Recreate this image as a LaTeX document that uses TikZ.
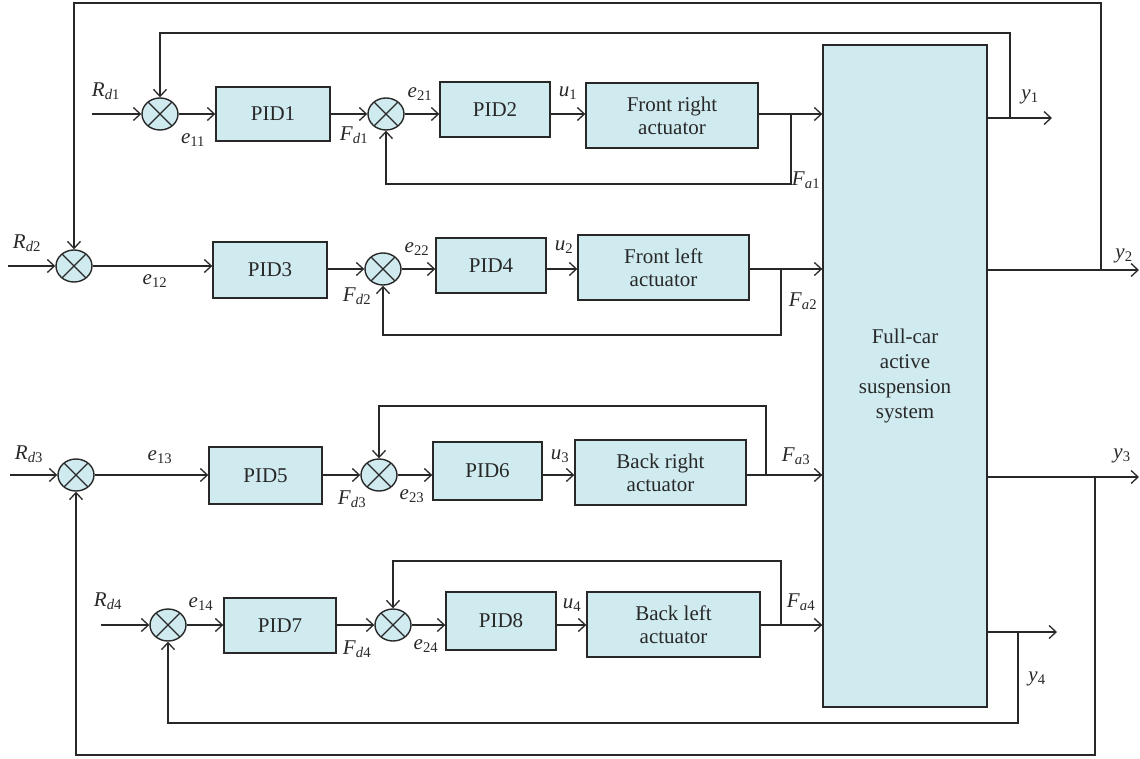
\documentclass[tikz,border=0pt]{standalone}
\usepackage{fontspec}
\setmainfont{Liberation Serif}
\usetikzlibrary{arrows.meta,shapes.geometric}
\definecolor{boxfill}{RGB}{208,235,240}
\definecolor{ln}{RGB}{40,40,40}
\newcommand{\sig}[2]{\textit{#1}\textsubscript{#2}}
\begin{document}
\begin{tikzpicture}[x=1pt,y=-1pt,
  >={Straight Barb[length=7pt,width=13pt]},
  line width=1.3pt, color=ln,
  blk/.style={draw=ln, fill=boxfill, line width=1.4pt, inner sep=0pt, align=center,
    font=\fontsize{21}{23}\selectfont},
  sumj/.style={ellipse, draw=ln, fill=boxfill, line width=1.4pt, minimum width=36pt,
    minimum height=32pt, inner sep=0pt,
    path picture={\draw[line width=1.3pt,ln] (path picture bounding box.center) ++(-20,-20) -- ++(40,40)
      (path picture bounding box.center) ++(-20,20) -- ++(40,-40);}},
  lab/.style={font=\fontsize{21}{23}\selectfont, inner sep=0pt}]
\useasboundingbox (0,0) rectangle (1140,759);

% plant
\node[blk, minimum width=164pt, minimum height=662pt, font=\fontsize{21}{25}\selectfont] (full) at (905,376) {Full-car\\active\\suspension\\system};

% row 1
\coordinate (in1) at (92,114);
\node[sumj] (s11) at (160,114) {};
\node[blk, minimum width=114pt, minimum height=54pt] (pid1) at (273,114) {PID1};
\node[sumj] (s21) at (386,114) {};
\node[blk, minimum width=110pt, minimum height=55pt] (pid2) at (495,109.5) {PID2};
\node[blk, minimum width=172pt, minimum height=65pt] (fra) at (672,115.5) {Front right\\actuator};
% row 2
\coordinate (in2) at (8,266);
\node[sumj] (s12) at (74,266) {};
\node[blk, minimum width=114pt, minimum height=56pt] (pid3) at (270,270) {PID3};
\node[sumj] (s22) at (383,269) {};
\node[blk, minimum width=110pt, minimum height=55pt] (pid4) at (491,265.5) {PID4};
\node[blk, minimum width=171pt, minimum height=65pt] (fla) at (663.5,267.5) {Front left\\actuator};
% row 3
\coordinate (in3) at (10,475);
\node[sumj] (s13) at (76,475) {};
\node[blk, minimum width=113pt, minimum height=57pt] (pid5) at (265.5,475.5) {PID5};
\node[sumj] (s23) at (379,475) {};
\node[blk, minimum width=109pt, minimum height=58pt] (pid6) at (487.5,471) {PID6};
\node[blk, minimum width=171pt, minimum height=65pt] (bra) at (660.5,472.5) {Back right\\actuator};
% row 4
\coordinate (in4) at (101,625);
\node[sumj] (s14) at (168,625) {};
\node[blk, minimum width=112pt, minimum height=55pt] (pid7) at (280,625.5) {PID7};
\node[sumj] (s24) at (393,625) {};
\node[blk, minimum width=110pt, minimum height=58pt] (pid8) at (501,621) {PID8};
\node[blk, minimum width=173pt, minimum height=65pt] (bla) at (673.5,624.5) {Back left\\actuator};

% output tap points and ends
\coordinate (t1) at (1010,118);
\coordinate (t2) at (1101,270);
\coordinate (t3) at (1095,477);
\coordinate (t4) at (1018,632);
\coordinate (y1e) at (1052,118);
\coordinate (y2e) at (1139,270);
\coordinate (y3e) at (1139,477);
\coordinate (y4e) at (1057,632);
\coordinate (b1) at (791,114);
\coordinate (b2) at (781,269);
\coordinate (b3) at (766,475);
\coordinate (b4) at (781,625);

% row 1 connectors
\draw[->] (in1) -- (s11);
\draw[->] (s11) -- (pid1);
\draw[->] (pid1) -- (s21);
\draw[->] (s21) -- (s21 -| pid2.west);
\draw[->] (s21 -| pid2.east) -- (s21 -| fra.west);
\draw[->] (s21 -| fra.east) -- (s21 -| full.west);
\draw[->] (b1) -- ++(0,70) -| (s21.south);
\draw[->] (full.east |- t1) -- (y1e);
\draw[->] (t1) -- ++(0,-85) -| (s11.north);
% row 2 connectors
\draw[->] (in2) -- (s12);
\draw[->] (s12) -- (s12 -| pid3.west);
\draw[->] (s22 -| pid3.east) -- (s22);
\draw[->] (s22) -- (s22 -| pid4.west);
\draw[->] (s22 -| pid4.east) -- (s22 -| fla.west);
\draw[->] (s22 -| fla.east) -- (s22 -| full.west);
\draw[->] (b2) -- ++(0,66) -| (s22.south);
\draw[->] (full.east |- t2) -- (y2e);
\draw[->] (t2) -- ++(0,-267) -| (s12.north);
% row 3 connectors
\draw[->] (in3) -- (s13);
\draw[->] (s13) -- (s13 -| pid5.west);
\draw[->] (s23 -| pid5.east) -- (s23);
\draw[->] (s23) -- (s23 -| pid6.west);
\draw[->] (s23 -| pid6.east) -- (s23 -| bra.west);
\draw[->] (s23 -| bra.east) -- (s23 -| full.west);
\draw[->] (b3) -- ++(0,-69) -| (s23.north);
\draw[->] (full.east |- t3) -- (y3e);
\draw[->] (t3) -- ++(0,278) -| (s13.south);
% row 4 connectors
\draw[->] (in4) -- (s14);
\draw[->] (s14) -- (s14 -| pid7.west);
\draw[->] (s24 -| pid7.east) -- (s24);
\draw[->] (s24) -- (s24 -| pid8.west);
\draw[->] (s24 -| pid8.east) -- (s24 -| bla.west);
\draw[->] (s24 -| bla.east) -- (s24 -| full.west);
\draw[->] (b4) -- ++(0,-64) -| (s24.north);
\draw[->] (full.east |- t4) -- (y4e);
\draw[->] (t4) -- ++(0,91) -| (s14.south);

% labels
\node[lab] (lRd1) at (106,91) {\sig{R}{\textit{d}1}};
\node[lab] (le11) at (193,140) {\sig{e}{11}};
\node[lab] (lFd1) at (354,135) {\sig{F}{\textit{d}1}};
\node[lab] (le21) at (420,94) {\sig{e}{21}};
\node[lab] (lu1) at (568,93) {\sig{u}{1}};
\node[lab] (lFa1) at (806,180) {\sig{F}{\textit{a}1}};
\node[lab] (ly1) at (1030,97) {\sig{y}{1}};
\node[lab] (ly2) at (1124,256) {\sig{y}{2}};
\node[lab] (lRd2) at (27,243) {\sig{R}{\textit{d}2}};
\node[lab] (le12) at (155,281) {\sig{e}{12}};
\node[lab] (lFd2) at (357,296) {\sig{F}{\textit{d}2}};
\node[lab] (le22) at (417,249) {\sig{e}{22}};
\node[lab] (lu2) at (564,247) {\sig{u}{2}};
\node[lab] (lFa2) at (803,301) {\sig{F}{\textit{a}2}};
\node[lab] (lRd3) at (29,454) {\sig{R}{\textit{d}3}};
\node[lab] (le13) at (160,457) {\sig{e}{13}};
\node[lab] (lFd3) at (352,499) {\sig{F}{\textit{d}3}};
\node[lab] (le23) at (412,496) {\sig{e}{23}};
\node[lab] (lu3) at (560,456) {\sig{u}{3}};
\node[lab] (lFa3) at (796,456) {\sig{F}{\textit{a}3}};
\node[lab] (ly3) at (1122,456) {\sig{y}{3}};
\node[lab] (lRd4) at (108,601) {\sig{R}{\textit{d}4}};
\node[lab] (le14) at (201,604) {\sig{e}{14}};
\node[lab] (lFd4) at (357,649) {\sig{F}{\textit{d}4}};
\node[lab] (le24) at (426,646) {\sig{e}{24}};
\node[lab] (lu4) at (572,605) {\sig{u}{4}};
\node[lab] (lFa4) at (801,602) {\sig{F}{\textit{a}4}};
\node[lab] (ly4) at (1037,679) {\sig{y}{4}};
\end{tikzpicture}
\end{document}
